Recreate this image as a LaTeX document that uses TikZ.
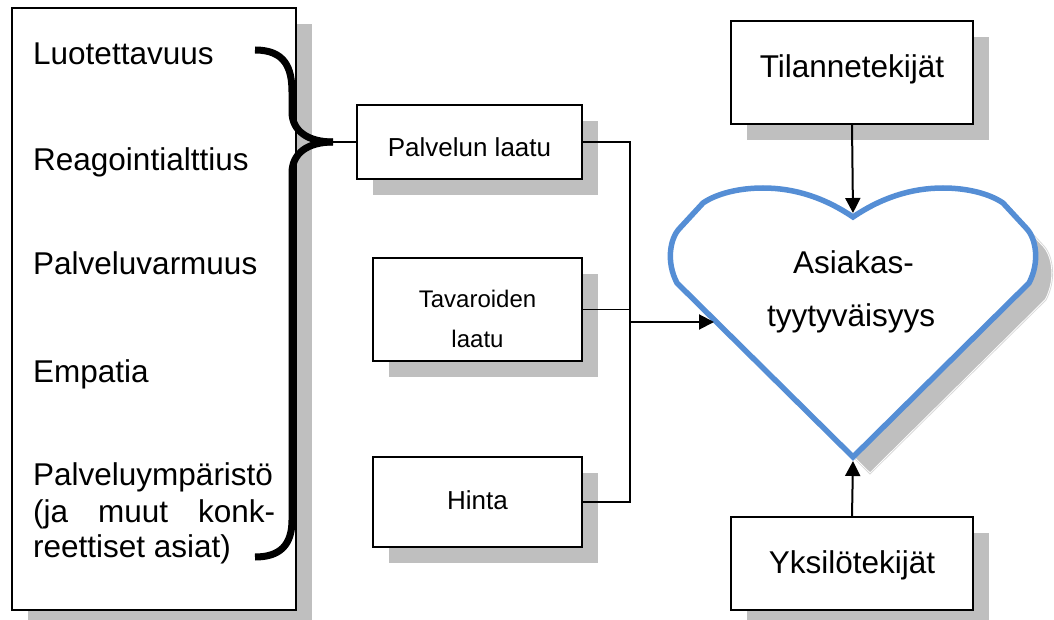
\documentclass[tikz,border=0pt]{standalone}
\usepackage{fontspec}
\setmainfont{Liberation Sans}
\usetikzlibrary{arrows.meta,shadows}

\definecolor{shadowgray}{RGB}{191,191,191}
\definecolor{heartblue}{RGB}{85,142,213}

\tikzset{
  box/.style={draw=black, line width=2pt, fill=white, rectangle, inner sep=0pt,
    drop shadow={shadow xshift=16pt, shadow yshift=-16pt, fill=shadowgray, opacity=1}},
  bigtext/.style={font=\fontsize{31.5}{36}\selectfont, inner sep=0pt},
  smalltext/.style={font=\fontsize{26}{30}\selectfont, inner sep=0pt},
  tinytext/.style={font=\fontsize{24}{28}\selectfont, inner sep=0pt},
  link/.style={line width=1.5pt},
  flow/.style={line width=2pt, -{Triangle[length=15pt,width=15pt]}},
  bracestroke/.style={line width=7pt},
}

% outline of the heart (pixel-like units, y pointing down)
\newcommand{\heartoutline}{(853,217) .. controls (825,198) and (795,188) .. (763,188)
  .. controls (738,188) and (716,194) .. (703,203) -- (679,229)
  .. controls (670,239) and (666,262) .. (677,283) -- (853,457) -- (1029,283)
  .. controls (1040,262) and (1036,239) .. (1027,229) -- (1003,203)
  .. controls (990,194) and (968,188) .. (943,188)
  .. controls (911,188) and (881,198) .. (853,217) -- cycle}

\begin{document}
\begin{tikzpicture}[x=1pt,y=-1pt]
  \useasboundingbox (0,0) rectangle (1054,620);
  \clip (0,0) rectangle (1054,620);

  % dimension list
  \node[box, minimum width=284pt, minimum height=602pt] (dims) at (154,309) {};
  \node[bigtext, anchor=base west] (d1) at (33,65) {Luotettavuus};
  \node[bigtext, anchor=base west] (d2) at (33,171) {Reagointialttius};
  \node[bigtext, anchor=base west] (d3) at (33,275) {Palveluvarmuus};
  \node[bigtext, anchor=base west] (d4) at (33,382) {Empatia};
  \node[bigtext, anchor=base west] (d5a) at (33,485) {Palveluympäristö};
  \node[bigtext, anchor=base west] (d5b) at (33,522) {\hbox to 242pt{(ja\hfill muut\hfill konk-}};
  \node[bigtext, anchor=base west] (d5c) at (33,557) {reettiset asiat)};

  % curly brace gathering the dimensions
  \coordinate (tip) at (333,142);
  \draw[bracestroke] (255,50) .. controls (285,50) and (292,68) .. (292,92) -- (292,112)
    .. controls (292,131) and (308,142) .. (tip);
  \draw[bracestroke] (tip) .. controls (308,142) and (292,153) .. (292,173) -- (292,520)
    .. controls (292,545) and (280,557) .. (255,557);

  % quality factors
  \node[box, minimum width=225pt, minimum height=74pt] (pl) at (469.5,142) {};
  \node[smalltext, anchor=base] (plt) at (469.5,157) {Palvelun laatu};
  \node[box, minimum width=209pt, minimum height=103pt] (tv) at (477.5,309.5) {};
  \node[tinytext, anchor=base] (tvt1) at (477.5,307) {Tavaroiden};
  \node[tinytext, anchor=base] (tvt2) at (477.5,347) {laatu};
  \node[box, minimum width=209pt, minimum height=90pt] (hi) at (477.5,502) {};
  \node[smalltext, anchor=base] (hit) at (477.5,509) {Hinta};

  % outer factors
  \node[box, minimum width=242pt, minimum height=103pt] (tk) at (852,72.5) {};
  \node[bigtext, anchor=base] (tkt) at (852,78) {Tilannetekijät};
  \node[box, minimum width=242pt, minimum height=93pt] (yk) at (852,563.5) {};
  \node[bigtext, anchor=base] (ykt) at (852,573) {Yksilötekijät};

  % heart with its shadow
  \begin{scope}[shift={(17,17)}]
    \draw[fill=shadowgray, draw=white, line width=2.5pt] \heartoutline;
    \draw[draw=shadowgray!60, line width=0.8pt] \heartoutline;
  \end{scope}
  \draw[fill=white, draw=heartblue, line width=5.5pt] \heartoutline;
  \node[bigtext, anchor=base west] (h1) at (793,273) {Asiakas-};
  \node[bigtext, anchor=base west] (h2) at (767,326) {tyytyväisyys};

  \coordinate (notch) at (853,213);
  \coordinate (hbot) at (853,461);
  \coordinate (hleft) at (714,322);
  \coordinate (junc) at (630,322);

  % connectors
  \draw[link] (tip) -- (tip -| pl.west);
  \draw[link] (pl.east) -- (pl.east -| junc) -- (hi.east -| junc) -- (hi.east);
  \draw[link] (tv.east) -- (tv.east -| junc);
  \draw[flow] (junc) -- (hleft);
  \draw[flow] (tk.south) -- (notch);
  \draw[flow] (yk.north) -- (hbot);
\end{tikzpicture}
\end{document}
